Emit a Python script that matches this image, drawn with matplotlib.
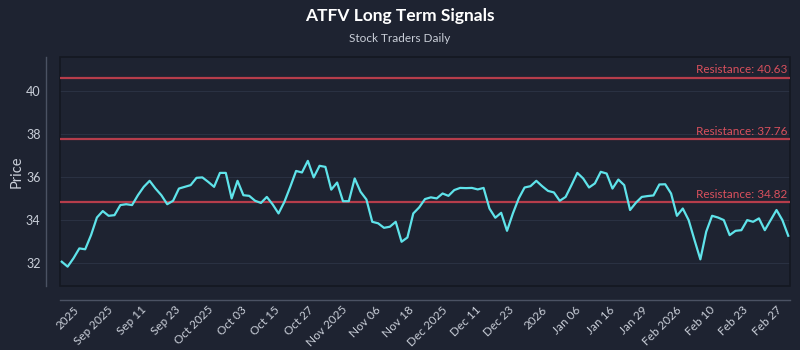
import numpy as np
import matplotlib
matplotlib.use("Agg")
import matplotlib.pyplot as plt
from matplotlib.patches import Rectangle

# Daily closing prices for ATFV
prices = [
    32.06, 31.83, 32.22, 32.68, 32.64, 33.30, 34.12, 34.42, 34.20, 34.23,
    34.70, 34.74, 34.70, 35.16, 35.55, 35.83, 35.47, 35.16, 34.74, 34.90,
    35.47, 35.55, 35.63, 35.97, 35.99, 35.78, 35.55, 36.20, 36.20, 35.01,
    35.83, 35.16, 35.13, 34.90, 34.80, 35.08, 34.73, 34.31, 34.85, 35.55,
    36.29, 36.22, 36.76, 35.99, 36.53, 36.48, 35.42, 35.75, 34.88, 34.88,
    35.94, 35.32, 34.96, 33.92, 33.85, 33.64, 33.69, 33.92, 32.99, 33.19,
    34.31, 34.59, 34.98, 35.06, 35.01, 35.24, 35.13, 35.40, 35.50, 35.49,
    35.50, 35.43, 35.50, 34.54, 34.11, 34.34, 33.50, 34.31, 35.01, 35.52,
    35.58, 35.83, 35.58, 35.36, 35.29, 34.90, 35.08, 35.63, 36.20, 35.94,
    35.52, 35.71, 36.25, 36.17, 35.47, 35.89, 35.63, 34.47, 34.81, 35.08,
    35.12, 35.15, 35.66, 35.67, 35.24, 34.20, 34.54, 34.00, 33.07, 32.17,
    33.46, 34.20, 34.12, 34.00, 33.30, 33.50, 33.53, 34.00, 33.92, 34.08,
    33.53, 34.00, 34.47, 34.00, 33.27,
]

# Resistance levels
resistance = [40.63, 37.76, 34.82]

tick_labels = [
    "2025", "Sep 2025", "Sep 11", "Sep 23", "Oct 2025", "Oct 03", "Oct 15",
    "Oct 27", "Nov 2025", "Nov 06", "Nov 18", "Dec 2025", "Dec 11", "Dec 23",
    "2026", "Jan 06", "Jan 16", "Jan 29", "Feb 2026", "Feb 10", "Feb 23",
    "Feb 27",
]

bg = "#1e2331"
text_col = "#c9ced8"
line_col = "#5fe3ea"
res_col = "#c8414f"

plt.rcParams["font.family"] = ["Lato", "DejaVu Sans"]

fig = plt.figure(figsize=(8, 3.5), dpi=100, facecolor=bg)
ax = fig.add_axes([0.075, 0.183, 0.9125, 0.654])
ax.set_facecolor(bg)

# offset spines first: moving a spine resets the tick objects
for side in ["top", "right"]:
    ax.spines[side].set_visible(False)
for side in ["left", "bottom"]:
    ax.spines[side].set_position(("outward", 10))
    ax.spines[side].set_color("#4b5263")
    ax.spines[side].set_linewidth(1)

x = np.arange(len(prices))
ax.plot(x, prices, color=line_col, lw=1.6, zorder=3)

for level in resistance:
    ax.axhline(level, color=res_col, lw=1.6, alpha=0.9, zorder=2)
    ax.annotate(f"Resistance: {level:.2f}", xy=(1, level), xycoords=("axes fraction", "data"),
                xytext=(-2, 2), textcoords="offset points", ha="right", va="bottom",
                color="#d9505d", fontsize=8.5)

ax.set_xlim(-0.3, len(prices) - 0.7)
ax.set_ylim(30.93, 41.6)
ax.set_yticks([32, 34, 36, 38, 40])

ticks = np.linspace(3.4, len(prices) - 1.8, len(tick_labels))
ax.set_xticks(ticks)
ax.set_xticklabels(tick_labels, rotation=45, ha="right")

ax.grid(axis="y", color="#2a3142", lw=0.8)
ax.set_axisbelow(True)

ax.tick_params(colors=text_col, length=0)
ax.tick_params(axis="x", pad=3, labelsize=8.5)
ax.tick_params(axis="y", pad=4, labelsize=9)
ax.set_ylabel("Price", color=text_col, fontsize=10.5, labelpad=2)

# dark frame around the plotting area
ax.add_patch(Rectangle((0, 0), 1, 1, transform=ax.transAxes, fill=False,
                       ec="#141821", lw=1.2, zorder=1, clip_on=False))

fig.text(0.5, 0.955, "ATFV Long Term Signals", ha="center", va="center",
         color="white", fontsize=12.5, fontweight="bold")
fig.text(0.5, 0.89, "Stock Traders Daily", ha="center", va="center",
         color=text_col, fontsize=8.5)

fig.savefig("out.png", dpi=100, facecolor=bg)
